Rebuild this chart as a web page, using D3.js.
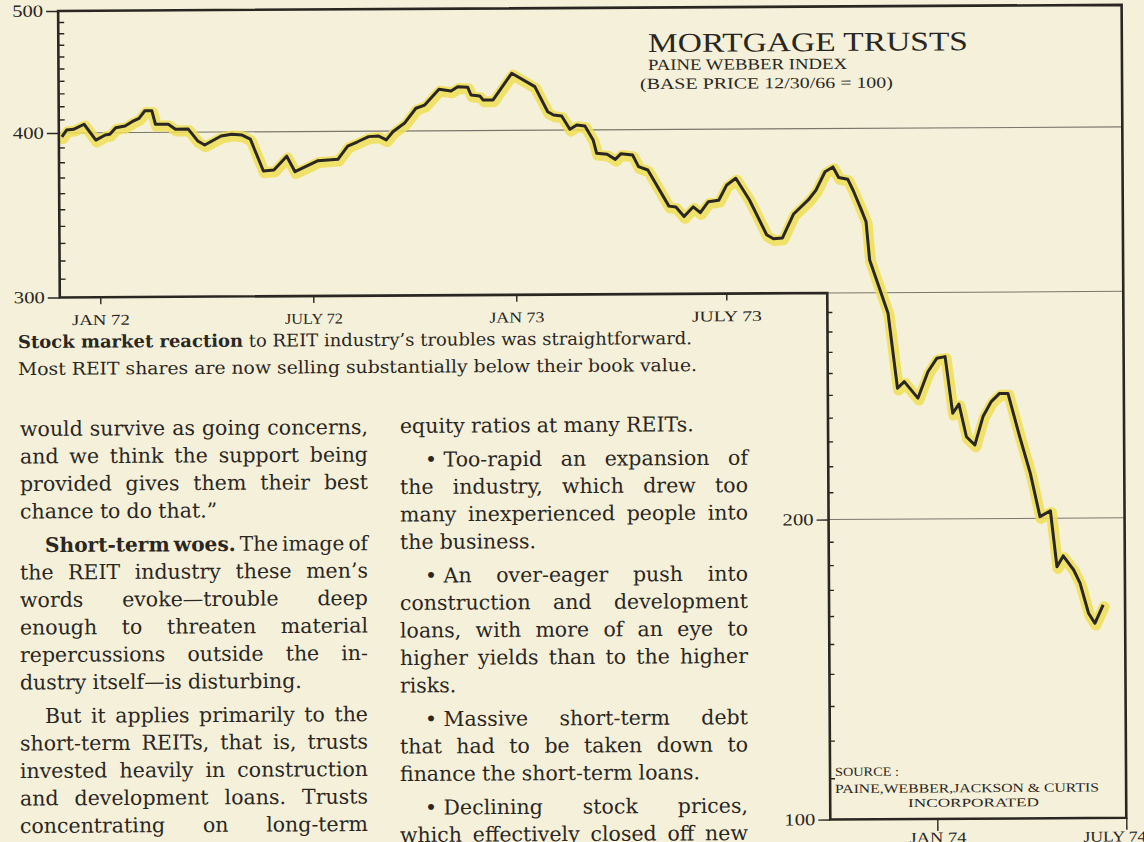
<!DOCTYPE html>
<html>
<head>
<meta charset="utf-8">
<script src="https://cdn.jsdelivr.net/npm/d3@7"></script>
<style>
  body { margin: 0; background: #f5f0da; }
  svg { display: block; }
</style>
</head>
<body>
<svg width="1144" height="842"></svg>

<script>

  // ---- data ----
  var dates = [
    "1971-11-30","1971-12-04","1971-12-10","1971-12-19","1971-12-29",
    "1972-01-06","1972-01-10","1972-01-15","1972-01-23","1972-01-29",
    "1972-02-04","1972-02-09","1972-02-15","1972-02-18","1972-02-29",
    "1972-03-06","1972-03-17","1972-03-25","1972-03-31","1972-04-14",
    "1972-04-23","1972-05-02","1972-05-09","1972-05-20","1972-05-29",
    "1972-06-09","1972-06-16","1972-07-06","1972-07-24","1972-08-02",
    "1972-08-11","1972-08-21","1972-08-30","1972-09-06","1972-09-12",
    "1972-09-23","1972-10-03","1972-10-11","1972-10-24","1972-11-04",
    "1972-11-10","1972-11-19","1972-11-22","1972-11-30","1972-12-03",
    "1972-12-12","1972-12-29","1973-01-18","1973-01-29","1973-02-03",
    "1973-02-10","1973-02-17","1973-02-23","1973-03-02","1973-03-09",
    "1973-03-12","1973-03-21","1973-03-28","1973-04-02","1973-04-12",
    "1973-04-17","1973-04-25","1973-05-13","1973-05-19","1973-05-26",
    "1973-06-03","1973-06-09","1973-06-16","1973-06-25","1973-07-02",
    "1973-07-10","1973-07-22","1973-08-06","1973-08-12","1973-08-20",
    "1973-08-30","1973-09-12","1973-09-19","1973-09-27","1973-10-04",
    "1973-10-09","1973-10-17","1973-10-22","1973-10-29","1973-11-02",
    "1973-11-05","1973-11-13","1973-11-21","1973-11-29","1973-12-05",
    "1973-12-17","1973-12-26","1974-01-03","1974-01-11","1974-01-18",
    "1974-01-24","1974-01-31","1974-02-08","1974-02-16","1974-02-24",
    "1974-03-04","1974-03-12","1974-03-23","1974-04-02","1974-04-11",
    "1974-04-21","1974-04-27","1974-05-03","1974-05-13","1974-05-19",
    "1974-05-27","1974-06-02","1974-06-10"
  ];

  var values = [
    397.3, 402.1, 402.6, 406.3, 394.9,
    398.4, 398.9, 403.6, 404.8, 408.0,
    410.5, 416.2, 416.1, 406.0, 405.9,
    402.2, 402.3, 393.9, 391.1, 397.2,
    398.4, 397.8, 394.9, 373.5, 374.1,
    383.2, 372.9, 380.1, 380.9, 389.8,
    392.7, 396.2, 396.6, 393.9, 399.5,
    406.1, 416.9, 419.3, 431.5, 430.1,
    433.5, 433.1, 426.9, 426.0, 423.0,
    423.0, 444.0, 433.2, 413.7, 411.2,
    410.4, 400.5, 403.7, 402.9, 393.0,
    383.9, 383.2, 379.8, 383.6, 382.6,
    374.9, 372.7, 349.8, 349.2, 343.4,
    349.3, 345.7, 352.4, 353.2, 362.8,
    367.0, 353.3, 332.4, 330.0, 330.5,
    344.6, 353.1, 359.3, 370.9, 374.0,
    367.1, 366.0, 358.5, 346.7, 339.7,
    317.7, 303.3, 289.1, 252.8, 255.8,
    248.3, 260.3, 266.6, 267.4, 241.6,
    245.6, 231.6, 228.2, 240.1, 246.6,
    250.2, 250.2, 231.5, 216.8, 200.6,
    202.7, 178.8, 183.3, 177.4, 172.1,
    160.5, 156.8, 163.6
  ];

  // axis ticks and labels
  var yLabelsUpper = [300, 400, 500];
  var yLabelsLower = [100, 200];
  var yGrid = [400];
  var yGridLower = [200, 300];
  var xTickDates = ["1972-01-01", "1972-07-01", "1973-01-01", "1973-07-01", "1974-01-01", "1974-07-01"];
  var xTickLabels = ["JAN 72", "JULY 72", "JAN 73", "JULY 73", "JAN 74", "JULY 74"];
  var xTickLabelWidths = [58, 58, 55, 70, 57, 63];

  // ---- texts ----
  var title = "MORTGAGE TRUSTS";
  var subtitle1 = "PAINE WEBBER INDEX";
  var subtitle2 = "(BASE PRICE 12/30/66 = 100)";
  var sourceLines = ["SOURCE :", "PAINE,WEBBER,JACKSON & CURTIS", "INCORPORATED"];

  var captionBold = "Stock market reaction";
  var captionRest = " to REIT industry\u2019s troubles was straightforward.";
  var captionLine2 = "Most REIT shares are now selling substantially below their book value.";

  // t: text, p: starts a paragraph, j: justified, b: number of bold words
  // (a bullet is glued to its first word with a no-break space)
  var leftColumn = [
    {t: "would survive as going concerns,", j: true},
    {t: "and we think the support being", j: true},
    {t: "provided gives them their best", j: true},
    {t: "chance to do that.\u201D", j: false},
    {t: "Short-term woes. The image of", j: true, p: true, b: 2},
    {t: "the REIT industry these men\u2019s", j: true},
    {t: "words evoke\u2014trouble deep", j: true},
    {t: "enough to threaten material", j: true},
    {t: "repercussions outside the in-", j: true},
    {t: "dustry itself\u2014is disturbing.", j: false},
    {t: "But it applies primarily to the", j: true, p: true},
    {t: "short-term REITs, that is, trusts", j: true},
    {t: "invested heavily in construction", j: true},
    {t: "and development loans. Trusts", j: true},
    {t: "concentrating on long-term", j: true}
  ];

  var rightColumn = [
    {t: "equity ratios at many REITs.", j: false},
    {t: "\u2022\u00A0Too-rapid an expansion of", j: true, p: true},
    {t: "the industry, which drew too", j: true},
    {t: "many inexperienced people into", j: true},
    {t: "the business.", j: false},
    {t: "\u2022\u00A0An over-eager push into", j: true, p: true},
    {t: "construction and development", j: true},
    {t: "loans, with more of an eye to", j: true},
    {t: "higher yields than to the higher", j: true},
    {t: "risks.", j: false},
    {t: "\u2022\u00A0Massive short-term debt", j: true, p: true},
    {t: "that had to be taken down to", j: true},
    {t: "finance the short-term loans.", j: false},
    {t: "\u2022\u00A0Declining stock prices,", j: true, p: true},
    {t: "which effectively closed off new", j: true}
  ];

  // ---- style ----
  var ink = "#2a2722";
  var gridColor = "#7a766b";
  var glow = "#efdf55";
  var lettering = "'Liberation Serif', serif";
  var bodyFont = "'DejaVu Serif', serif";
  var bodySize = 20.5;

  // the printed page sits slightly rotated
  var tilt = -0.33, cx0 = 572, cy0 = 421;

  var svg = d3.select("svg");
  svg.append("rect").attr("width", 1144).attr("height", 842).attr("fill", "#f5f0da");
  var page = svg.append("g").attr("transform", "rotate(" + tilt + " " + cx0 + " " + cy0 + ")");

  // where to put something so that it shows up at (px, py) on the photo
  function pagePt(px, py) {
    var a = -tilt * Math.PI / 180;
    return {
      x: cx0 + (px - cx0) * Math.cos(a) - (py - cy0) * Math.sin(a),
      y: cy0 + (px - cx0) * Math.sin(a) + (py - cy0) * Math.cos(a)
    };
  }

  // ---- scales ----
  var parseDate = d3.timeParse("%Y-%m-%d");

  // hand drawn: half-year spacing is not quite even
  var x = d3.scaleTime()
    .domain(xTickDates.map(parseDate))
    .range([101, 314, 517, 727, 935, 1124]);

  // log-like value axis, drawn piece by piece
  var y = d3.scaleLog()
    .domain([100, 200, 300, 400, 500])
    .range([821, 521, 294.5, 130, 8]);

  var data = dates.map(function(d, i){
    return {date: parseDate(d), value: values[i]};
  });

  var leftX = 60.5;
  var splitX = 828;
  var rightX = x(parseDate("1974-07-01"));

  // ---- gridlines ----
  page.selectAll("line.grid").data(yGrid).enter().append("line")
    .attr("class", "grid")
    .attr("x1", leftX).attr("x2", rightX)
    .attr("y1", function(d){ return y(d); })
    .attr("y2", function(d){ return y(d); })
    .attr("stroke", gridColor).attr("stroke-width", 1.1);

  page.selectAll("line.gridlow").data(yGridLower).enter().append("line")
    .attr("class", "gridlow")
    .attr("x1", splitX).attr("x2", rightX)
    .attr("y1", function(d){ return y(d); })
    .attr("y2", function(d){ return y(d); })
    .attr("stroke", gridColor).attr("stroke-width", 1.1);

  // ---- the index line ----
  var line = d3.line()
    .x(function(d){ return x(d.date); })
    .y(function(d){ return y(d.value); });

  page.append("path")
    .datum(data)
    .attr("d", line)
    .attr("fill", "none")
    .attr("stroke", glow)
    .attr("stroke-width", 11)
    .attr("stroke-linejoin", "round")
    .attr("stroke-linecap", "round")
    .attr("opacity", 0.85)
    .attr("transform", "translate(1,1.8)");

  page.append("path")
    .datum(data)
    .attr("d", line)
    .attr("fill", "none")
    .attr("stroke", ink)
    .attr("stroke-width", 3)
    .attr("stroke-linejoin", "round");

  // ---- L-shaped frame ----
  page.append("path")
    .attr("d", "M" + leftX + "," + y(500) +
               "V" + y(300) + "H" + splitX + "V" + y(100) +
               "H" + rightX + "V" + y(500) + "Z")
    .attr("fill", "none")
    .attr("stroke", ink)
    .attr("stroke-width", 2.6);

  // minor ticks every 10
  function minorTicks(g, vals, size){
    g.call(d3.axisRight(y).tickValues(vals).tickSize(size).tickFormat(""));
    g.select(".domain").remove();
    g.selectAll(".tick line").attr("stroke", ink).attr("stroke-width", 1.4);
  }
  minorTicks(page.append("g").attr("transform", "translate(" + leftX + ",0)"),
    d3.range(310, 500, 10).filter(function(v){ return v !== 400; }), 6);
  minorTicks(page.append("g").attr("transform", "translate(" + splitX + ",0)"),
    d3.range(110, 300, 10).filter(function(v){ return v !== 200; }), 5);

  // labelled value ticks
  function valueAxis(g, vals){
    g.call(d3.axisLeft(y).tickValues(vals).tickSize(12).tickPadding(3).tickFormat(d3.format("d")));
    g.select(".domain").remove();
    g.selectAll(".tick line").attr("stroke", ink).attr("stroke-width", 1.4);
    g.selectAll(".tick text")
      .attr("fill", ink)
      .attr("font-family", lettering)
      .attr("font-size", 17)
      .attr("dy", "0.3em")
      .attr("textLength", 31)
      .attr("lengthAdjust", "spacingAndGlyphs");
  }
  valueAxis(page.append("g").attr("transform", "translate(" + leftX + ",0)"), yLabelsUpper);
  valueAxis(page.append("g").attr("transform", "translate(" + splitX + ",0)"), yLabelsLower);

  // date ticks
  function dateAxis(g, idx, size, pad){
    var ds = idx.map(function(i){ return parseDate(xTickDates[i]); });
    g.call(d3.axisBottom(x).tickValues(ds).tickSize(size).tickPadding(pad)
      .tickFormat(function(d, i){ return xTickLabels[idx[i]]; }));
    g.select(".domain").remove();
    g.selectAll(".tick line").attr("stroke", ink).attr("stroke-width", 1.4);
    g.selectAll(".tick text")
      .attr("fill", ink)
      .attr("font-family", lettering)
      .attr("font-size", 15)
      .attr("textLength", function(d, i){ return xTickLabelWidths[idx[i]]; })
      .attr("lengthAdjust", "spacingAndGlyphs");
  }
  dateAxis(page.append("g").attr("transform", "translate(0," + y(300) + ")"), [0, 1, 2, 3], 7, 10);
  var lowAxis = page.append("g").attr("transform", "translate(0," + y(100) + ")");
  dateAxis(lowAxis, [4, 5], 12, 1);
  lowAxis.selectAll(".tick text").filter(function(d, i){ return i === 1; }).attr("dx", -12);

  // ---- title block ----
  function letterText(px, py, str, size, width){
    var p = pagePt(px, py);
    page.append("text")
      .attr("x", p.x).attr("y", p.y)
      .attr("fill", ink)
      .attr("font-family", lettering)
      .attr("font-size", size)
      .attr("textLength", width)
      .attr("lengthAdjust", "spacingAndGlyphs")
      .text(str);
  }
  letterText(648, 52, title, 27, 320);
  letterText(648, 70, subtitle1, 15.5, 199);
  letterText(640, 89, subtitle2, 15.5, 253);

  letterText(835, 776, sourceLines[0], 12.5, 64);
  letterText(835, 793, sourceLines[1], 12.5, 264);
  letterText(908, 807, sourceLines[2], 12, 131);

  // ---- caption ----
  function caption(px, py, bold, rest, width){
    var p = pagePt(px, py);
    var t = page.append("text")
      .attr("x", p.x).attr("y", p.y)
      .attr("fill", ink)
      .attr("font-family", bodyFont)
      .attr("font-size", 17.5)
      .attr("textLength", width)
      .attr("lengthAdjust", "spacingAndGlyphs");
    if (bold) t.append("tspan").attr("font-weight", "bold").text(bold);
    t.append("tspan").text(rest);
  }
  caption(18, 348, captionBold, captionRest, 674);
  caption(18, 375, null, captionLine2, 679);

  // ---- body text, justified column by column ----
  function setLine(px, py, width, ln){
    var p = pagePt(px, py);
    var t = page.append("text")
      .attr("fill", ink)
      .attr("font-family", bodyFont)
      .attr("font-size", bodySize);
    var words = ln.t.split(" ");
    var spans = words.map(function(w, i){
      return t.append("tspan")
        .attr("y", p.y)
        .attr("font-weight", i < (ln.b || 0) ? "bold" : "normal")
        .text(w);
    });
    var widths = spans.map(function(s){ return s.node().getComputedTextLength(); });
    var sum = d3.sum(widths);
    var gap = bodySize * 0.3, k = 1;
    if (ln.j && words.length > 1) {
      gap = (width - sum) / (words.length - 1);
      if (gap < 4) {
        k = (width - 4 * (words.length - 1)) / sum;
        gap = 4;
        t.attr("font-size", bodySize * k);
      }
    }
    var cx = p.x;
    spans.forEach(function(s, i){
      s.attr("x", cx);
      cx += widths[i] * k + gap;
    });
  }

  function column(lines, left, width, top){
    var yb = top;
    lines.forEach(function(ln, i){
      if (i > 0) yb += ln.p ? 33.5 : 27.5;
      var indent = ln.p ? 25 : 0;
      setLine(left + indent, yb, width - indent, ln);
    });
  }
  column(leftColumn, 20, 348, 436);
  column(rightColumn, 400, 348, 433);

</script>
</body>
</html>
